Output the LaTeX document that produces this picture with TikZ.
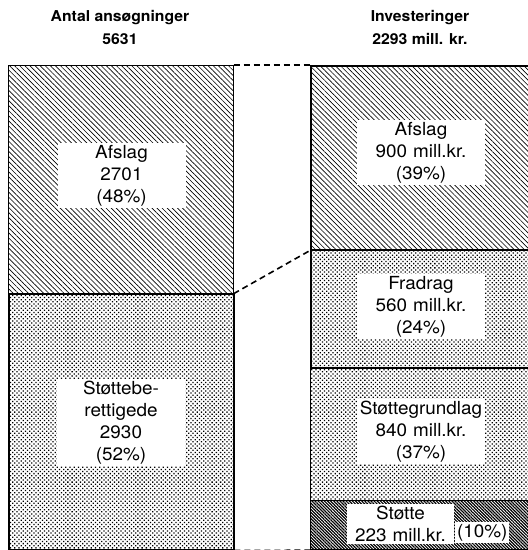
\documentclass[tikz,border=0pt]{standalone}
\usepackage{fontspec}
\setmainfont{TeX Gyre Heros}[FakeStretch=1.05]
\usetikzlibrary{patterns.meta}

\begin{document}
\begin{tikzpicture}[x=1pt, y=-1pt,
    bar/.style={draw, line width=1.5pt, anchor=north west, inner sep=0pt},
    hatch/.style={pattern={Lines[angle=-45, distance=3.6pt, line width=0.65pt]}},
    dots/.style={pattern={Dots[angle=45, distance=3pt, radius=0.9pt]}},
    dark/.style={pattern={Lines[angle=-45, distance=2.2pt, line width=1.2pt]}},
    lbl/.style={fill=white, align=center, text width=124pt, inner xsep=2pt, inner ysep=2pt,
                font=\fontsize{18}{22}\selectfont},
    title/.style={align=center, font=\bfseries\fontsize{15}{23}\selectfont},
    link/.style={line width=1.6pt, dash pattern=on 6pt off 4pt}]
    \useasboundingbox (0,0) rectangle (528,550);

    % Titles
    \node [title] (tLeft)  at (120,27.5) {Antal ansøgninger\\5631};
    \node [title] (tRight) at (420,27.5) {Investeringer\\2293 mill. kr.};

    % Bars {left: ansøgninger, right: investeringer}
    \node [bar, hatch, minimum width=225pt, minimum height=228pt] (lAfslag) at (8,65)  {};
    \node [bar, dots,  minimum width=225pt, minimum height=256pt] (lStotte) at (8,293) {};
    \node [bar, hatch, minimum width=230pt, minimum height=184pt] (rAfslag)  at (310,65)  {};
    \node [bar, dots,  minimum width=230pt, minimum height=118pt] (rFradrag) at (310,249) {};
    \node [bar, dots,  minimum width=230pt, minimum height=133pt, line width=1pt] (rGrund) at (310,367) {};
    \node [bar, dark,  minimum width=230pt, minimum height=49pt]  (rStotte)  at (310,500) {};

    % Labels
    \node [lbl] (nlAfslag) at (121.5,175.5) {Afslag\\2701\\(48\%)};
    \node [lbl] (nlStotte) at (121,422.5)   {Støttebe-\\rettigede\\2930\\(52\%)};
    \node [lbl] (nrAfslag)  at (421,152.5) {Afslag\\900 mill.kr.\\(39\%)};
    \node [lbl] (nrFradrag) at (421,306.5) {Fradrag\\560 mill.kr.\\(24\%)};
    \node [lbl] (nrGrund)   at (421,431.5) {Støttegrundlag\\840 mill.kr.\\(37\%)};
    \node [lbl, text width=103pt] (nrStotte) at (400.5,524) {Støtte\\223 mill.kr.};
    \node [lbl, text width=50pt, anchor=base] (nrPct) at (482,537) {(10\%)};

    % Dashed links
    \path [link] (lAfslag.north east) edge (rAfslag.north west);
    \path [link] (lAfslag.south east) edge (rAfslag.south west);
    \path [link] (lStotte.south east) edge (rStotte.south west);
\end{tikzpicture}
\end{document}
